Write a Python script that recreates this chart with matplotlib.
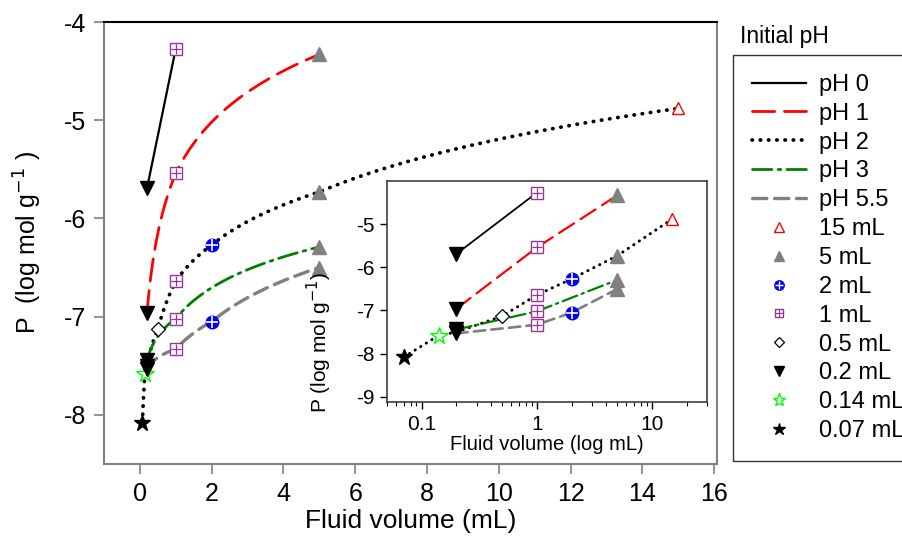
import numpy as np
import matplotlib
matplotlib.use("Agg")
import matplotlib.pyplot as plt
from matplotlib.lines import Line2D

plt.rcParams['font.family'] = ['Liberation Sans', 'DejaVu Sans']

# fluid volume (mL) and P (log mol/g) for each initial pH
ph0_vol = [0.2, 1]
ph0_p = [-5.69, -4.27]
ph1_vol = [0.2, 1, 5]
ph1_p = [-6.96, -5.54, -4.33]
ph2_vol = [0.07, 0.14, 0.2, 0.5, 1, 2, 5, 15]
ph2_p = [-8.08, -7.58, -7.50, -7.13, -6.64, -6.27, -5.73, -4.88]
ph3_vol = [0.2, 1, 5]
ph3_p = [-7.44, -7.02, -6.29]
ph55_vol = [0.2, 1, 2, 5]
ph55_p = [-7.53, -7.33, -7.05, -6.50]

series = [
    ("pH 0", ph0_vol, ph0_p, "black", "-", 1.6),
    ("pH 1", ph1_vol, ph1_p, "#ff0000", (0, (8, 3.5)), 2.0),
    ("pH 2", ph2_vol, ph2_p, "black", (0, (0.1, 2.1)), 2.7),
    ("pH 3", ph3_vol, ph3_p, "#008000", (0, (7, 2.2, 1, 2.2)), 2.0),
    ("pH 5.5", ph55_vol, ph55_p, "#808080", (0, (4.3, 2.3)), 2.4),
]

# marker style for each fluid volume
vol_labels = ["15 mL", "5 mL", "2 mL", "1 mL", "0.5 mL", "0.2 mL", "0.14 mL", "0.07 mL"]
vol_values = [15, 5, 2, 1, 0.5, 0.2, 0.14, 0.07]
purple = "#993399"
mstyle = {
    15: dict(marker="^", mfc="white", mec="#ff0000", mew=1.0, ms=9),
    5: dict(marker="^", mfc="#808080", mec="#808080", ms=10),
    2: dict(marker="o", mfc="#0000ff", mec="#0000ff", ms=9),
    1: dict(marker="s", mfc="white", mec=purple, mew=1.0, ms=8),
    0.5: dict(marker="D", mfc="white", mec="black", mew=0.9, ms=7),
    0.2: dict(marker="v", mfc="black", mec="black", ms=10),
    0.14: dict(marker="*", mfc="white", mec="#00ff00", mew=1.0, ms=13),
    0.07: dict(marker="*", mfc="black", mec="black", ms=12),
}


def draw_marker(ax, x, y, v, scale=1.0):
    st = dict(mstyle[v])
    st["ms"] = st["ms"] * scale
    ax.plot([x], [y], ls="none", zorder=5, **st)
    if v == 2:
        ax.plot([x], [y], ls="none", marker="+", mec="white", mew=1.2,
                ms=st["ms"] * 0.9, zorder=6)
    if v == 1:
        ax.plot([x], [y], ls="none", marker="+", mec=purple, mew=0.9,
                ms=st["ms"] * 0.95, zorder=6)


def log_curve(vol, p):
    # lines joining points are straight in log(volume)
    xs, ys = [], []
    for i in range(len(vol) - 1):
        t = np.linspace(0, 1, 60)
        lx = np.log10(vol[i]) + t * (np.log10(vol[i + 1]) - np.log10(vol[i]))
        xs.extend(10 ** lx)
        ys.extend(p[i] + t * (p[i + 1] - p[i]))
    return xs, ys


fig = plt.figure(figsize=(9.03, 5.44), dpi=100)
W, H = 903, 544


def px_axes(l, t, r, b):
    return fig.add_axes([l / W, 1 - b / H, (r - l) / W, (b - t) / H])


ax = px_axes(104, 22, 717, 464)
for name, vol, p, col, ls, lw in series:
    if name == "pH 0":
        ax.plot(vol, p, color=col, ls=ls, lw=lw, zorder=3)
    else:
        xs, ys = log_curve(vol, p)
        ax.plot(xs, ys, color=col, ls=ls, lw=lw, dash_capstyle="round", zorder=3)
    for x, y in zip(vol, p):
        draw_marker(ax, x, y, x)

ax.set_xlim(-1, 16.08)
ax.set_ylim(-8.5, -4)
ax.set_xticks(np.arange(0, 17, 2))
ax.set_yticks([-8, -7, -6, -5, -4])
ax.set_yticklabels(["-8", "-7", "-6", "-5", "-4"])
ax.tick_params(direction="out", length=7, width=1.2, color="#808080",
               labelsize=18, pad=6)
for s in ["left", "bottom", "right"]:
    ax.spines[s].set_color("#808080")
    ax.spines[s].set_linewidth(1.5)
ax.spines["top"].set_color("black")
ax.spines["top"].set_linewidth(1.5)
ax.set_xlabel("Fluid volume (mL)", fontsize=19, labelpad=2)
ax.set_ylabel("P  (log mol g$^{-1}$ )", fontsize=18, labelpad=14)

# inset on log volume scale
ins = px_axes(387, 181, 707, 402)
for name, vol, p, col, ls, lw in series:
    ins.plot(vol, p, color=col, ls=ls, lw=lw * 0.8, dash_capstyle="round", zorder=3)
    for x, y in zip(vol, p):
        draw_marker(ins, x, y, x)
ins.set_xscale("log")
ins.set_xlim(0.05, 30)
ins.set_ylim(-9.12, -4)
ins.set_yticks([-9, -8, -7, -6, -5])
ins.set_yticklabels(["-9", "-8", "-7", "-6", "-5"])
ins.set_xticks([0.1, 1, 10])
ins.set_xticklabels(["0.1", "1", "10"])
ins.tick_params(which="major", direction="out", length=5, width=1, labelsize=15, pad=4)
ins.tick_params(which="minor", direction="out", length=3, width=0.8)
for s in ins.spines.values():
    s.set_color("#404040")
    s.set_linewidth(1.2)
ins.set_xlabel("Fluid volume (log mL)", fontsize=14.5, labelpad=1)
ins.set_ylabel("P (log mol g$^{-1}$)", fontsize=15, labelpad=3)
ins.yaxis.set_label_coords(-0.165, 0.27)

# legend
handles = []
labels = []
for name, vol, p, col, ls, lw in series:
    handles.append(Line2D([], [], color=col, ls=ls, lw=lw, dash_capstyle="round"))
    labels.append(name)
for lab, v in zip(vol_labels, vol_values):
    st = dict(mstyle[v])
    st["ms"] = st["ms"] * 0.75
    h = Line2D([], [], ls="none", **st)
    if v == 2:
        h = (h, Line2D([], [], ls="none", marker="+", mec="white", mew=1.0, ms=st["ms"] * 0.9))
    if v == 1:
        h = (h, Line2D([], [], ls="none", marker="+", mec=purple, mew=0.8, ms=st["ms"] * 0.95))
    handles.append(h)
    labels.append(lab)

leg = fig.legend(handles, labels, loc="upper left", bbox_to_anchor=(733 / W, 1 - 55 / H),
                 fontsize=17, frameon=True, fancybox=False, borderpad=0.8,
                 handlelength=2.3, handletextpad=0.55, labelspacing=0.29,
                 borderaxespad=0)
leg.get_frame().set_edgecolor("black")
leg.get_frame().set_linewidth(1.0)
fig.text(740 / W, 1 - 37 / H, "Initial pH", fontsize=16.5, va="center", ha="left")

fig.savefig("out.png", dpi=100)
